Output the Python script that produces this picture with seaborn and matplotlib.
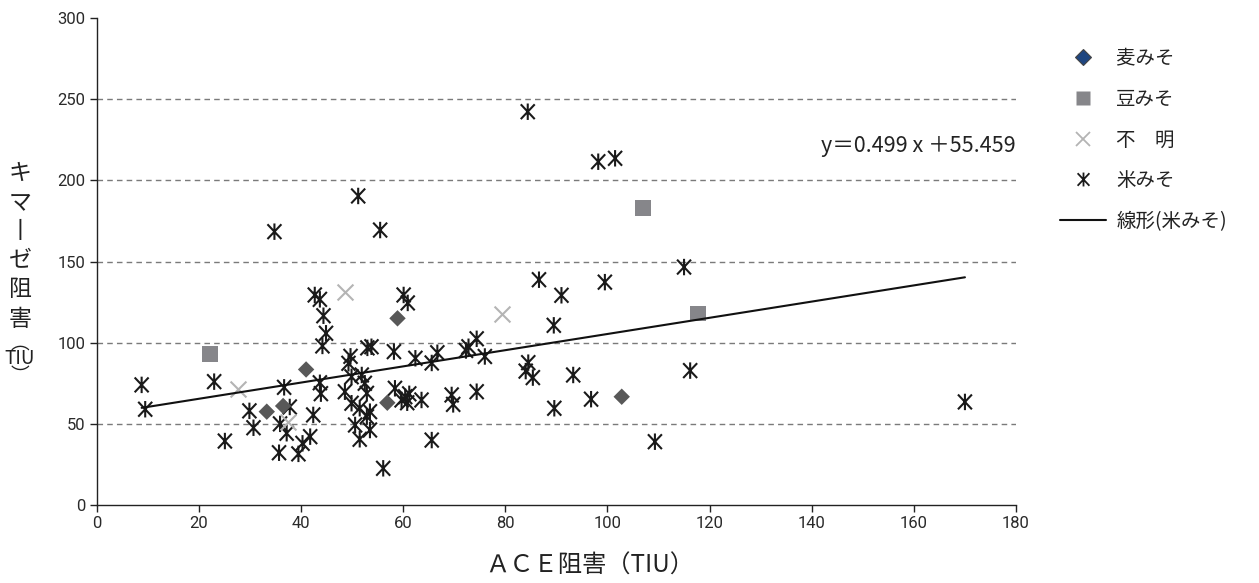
import numpy as np
import pandas as pd
import matplotlib
matplotlib.use("Agg")
import matplotlib.pyplot as plt
from matplotlib.path import Path
from matplotlib.lines import Line2D
import seaborn as sns

# ---- data: ACE inhibition (x) vs chymase inhibition (y), TIU ----
wheat_x = [33.3, 36.5, 41.0, 58.9, 56.9, 102.8]
wheat_y = [57.5, 61.0, 83.5, 115.0, 63.0, 66.7]

bean_x = [22.2, 107.0, 117.7]
bean_y = [93.0, 182.8, 118.0]

unknown_x = [27.7, 37.5, 48.7, 79.3]
unknown_y = [71.5, 51.3, 131.4, 117.8]

rice_x = [8.8, 9.5, 23.0, 25.1, 29.9, 30.7, 36.7, 37.8, 35.9, 37.2,
          35.7, 39.5, 40.3, 41.8, 42.4, 43.7, 43.9, 42.7, 43.7, 44.4,
          44.9, 44.2, 34.8, 51.2, 55.5, 48.6, 49.3, 49.7, 53.0, 53.8,
          58.2, 60.1, 60.9, 49.9, 51.9, 52.5, 52.9, 49.9, 51.5, 53.5,
          50.6, 53.5, 51.5, 52.9, 56.1, 58.4, 59.7, 60.4, 61.2, 60.8,
          63.6, 62.4, 65.6, 66.7, 72.3, 72.8, 74.4, 76.0, 69.5, 69.8,
          74.4, 65.6, 84.4, 98.2, 101.5, 86.6, 91.0, 99.5, 89.5, 84.5,
          84.0, 85.4, 93.3, 96.8, 89.6, 115.0, 116.2, 109.3, 170.0]
rice_y = [74.0, 59.0, 76.0, 39.4, 58.0, 47.6, 72.5, 60.4, 50.0, 44.2,
          32.2, 31.5, 38.0, 42.1, 55.5, 75.3, 68.6, 129.4, 126.7, 116.6,
          105.8, 98.0, 168.4, 190.4, 169.4, 69.8, 87.3, 91.6, 96.8, 97.5,
          94.5, 129.4, 124.5, 79.0, 80.1, 75.0, 68.8, 62.7, 59.6, 57.5,
          49.3, 46.2, 40.5, 54.4, 22.6, 71.9, 64.7, 66.7, 68.5, 63.0,
          64.7, 90.4, 87.5, 93.8, 95.2, 97.5, 102.4, 91.5, 67.8, 62.0,
          69.8, 40.0, 242.3, 211.5, 213.6, 138.8, 129.2, 137.3, 110.7, 87.7,
          82.5, 78.5, 80.1, 65.2, 59.6, 146.6, 82.8, 39.0, 63.5]

# linear fit for rice miso, as reported
slope, intercept = 0.499, 55.459

labels = ["麦みそ", "豆みそ", "不\u3000明", "米みそ", "線形(米みそ)"]
x_ticks = list(range(0, 181, 20))
y_ticks = list(range(0, 301, 50))
ylabel_chars = ["キ", "マ", "丨", "ゼ", "阻", "害"]

sns.set_style("white")
plt.rcParams["font.family"] = ["Noto Sans CJK JP", "DejaVu Sans"]
TXT = "#222222"
NARROW = ["Liberation Sans Narrow", "Roboto", "DejaVu Sans"]

# six-armed asterisk: vertical stroke plus an X
star = Path(
    [(0, -1), (0, 1), (-0.85, -0.9), (0.85, 0.9), (-0.85, 0.9), (0.85, -0.9)],
    [Path.MOVETO, Path.LINETO, Path.MOVETO, Path.LINETO, Path.MOVETO, Path.LINETO],
)

fig = plt.figure(figsize=(12.59, 5.83), dpi=100)
ax = fig.add_axes([0.0768, 0.1338, 0.7302, 0.8352])

df_w = pd.DataFrame({"x": wheat_x, "y": wheat_y})
df_b = pd.DataFrame({"x": bean_x, "y": bean_y})
df_u = pd.DataFrame({"x": unknown_x, "y": unknown_y})
df_r = pd.DataFrame({"x": rice_x, "y": rice_y})

sns.scatterplot(data=df_r, x="x", y="y", ax=ax, marker=star, s=140,
                facecolor="none", edgecolor="#1a1a1a", linewidth=1.5,
                legend=False, zorder=3)
sns.scatterplot(data=df_u, x="x", y="y", ax=ax, marker="x", s=130,
                color="#b4b4b4", linewidth=1.5, legend=False, zorder=3)
sns.scatterplot(data=df_b, x="x", y="y", ax=ax, marker="s", s=130,
                color="#86868a", edgecolor="none", legend=False, zorder=3)
sns.scatterplot(data=df_w, x="x", y="y", ax=ax, marker="D", s=70,
                color="#585858", edgecolor="none", legend=False, zorder=4)

xmin, xmax = min(rice_x), max(rice_x)
fit_x = np.array([xmin, xmax])
sns.lineplot(x=fit_x, y=slope * fit_x + intercept, ax=ax, color="#111111",
             linewidth=1.5, zorder=5)

ax.set_xlim(0, 180)
ax.set_ylim(0, 300)
ax.set_xticks(x_ticks)
ax.set_yticks(y_ticks)
for yv in y_ticks[1:-1]:
    ax.axhline(yv, color="#7a7a7a", linewidth=1.0, linestyle=(0, (4, 3)), zorder=1)

for side in ["top", "right"]:
    ax.spines[side].set_visible(False)
for side in ["left", "bottom"]:
    ax.spines[side].set_color(TXT)
    ax.spines[side].set_linewidth(1.0)
ax.tick_params(axis="both", direction="out", length=5, width=1.0,
               color=TXT, labelsize=12, labelcolor="#2a2a2a",
               bottom=True, left=True, pad=3)
for lab in ax.get_xticklabels() + ax.get_yticklabels():
    lab.set_family(NARROW)
ax.set_xlabel("")
ax.set_ylabel("")

ax.text(1.0, 0.737, "y＝0.499 x ＋55.459", transform=ax.transAxes,
        ha="right", va="center", fontsize=15.5, color=TXT)

# axis titles
fig.text(590 / 1259, 1 - 566 / 583, "ＡＣＥ阻害（TIU）", ha="center", va="center",
         fontsize=17.5, color=TXT)
for i, ch in enumerate(ylabel_chars):
    fig.text(20 / 1259, 1 - (173 + 29.2 * i) / 583, ch, ha="center", va="center",
             fontsize=16.5, color=TXT)
# vertical-writing parentheses around the horizontal unit
fig.text(20 / 1259, 1 - 359 / 583, "︵\nTIU\n︶", ha="center", va="center",
         multialignment="center", linespacing=0.7, fontsize=13.5, color=TXT)

handles = [
    Line2D([], [], linestyle="none", marker="D", markersize=8,
           markerfacecolor="#1f4680", markeredgecolor="#444444", markeredgewidth=0.8),
    Line2D([], [], linestyle="none", marker="s", markersize=10,
           markerfacecolor="#86868a", markeredgecolor="none"),
    Line2D([], [], linestyle="none", marker="x", markersize=10,
           color="#b4b4b4", markeredgewidth=1.3),
    Line2D([], [], linestyle="none", marker=star, markersize=10,
           color="#1a1a1a", markeredgewidth=1.3),
    Line2D([], [], color="#111111", linewidth=1.5),
]
fig.legend(handles, labels, loc="upper left",
           bbox_to_anchor=(1052 / 1259, 1 - 40 / 583), frameon=False,
           fontsize=14, labelspacing=1.02, handlelength=2.4,
           handletextpad=0.5, borderaxespad=0, labelcolor=TXT)

fig.savefig("out.png", dpi=100)
